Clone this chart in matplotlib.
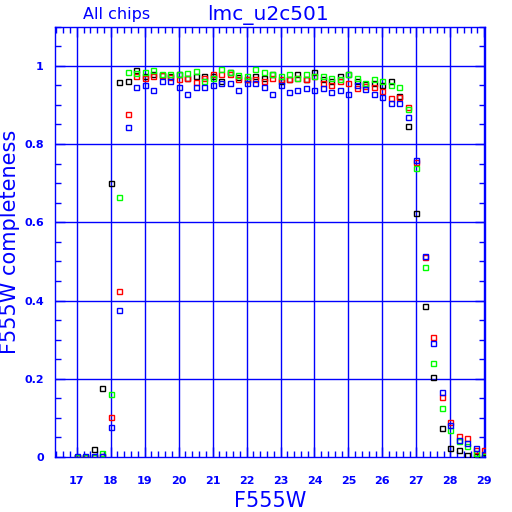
import numpy as np
import matplotlib
matplotlib.use("Agg")
import matplotlib.pyplot as plt
from matplotlib.ticker import MultipleLocator

mags = [17.0, 17.25, 17.5, 17.75, 18.0, 18.25, 18.5, 18.75, 19.0, 19.25, 19.5, 19.75,
        20.0, 20.25, 20.5, 20.75, 21.0, 21.25, 21.5, 21.75, 22.0, 22.25, 22.5, 22.75,
        23.0, 23.25, 23.5, 23.75, 24.0, 24.25, 24.5, 24.75, 25.0, 25.25, 25.5, 25.75,
        26.0, 26.25, 26.5, 26.75, 27.0, 27.25, 27.5, 27.75, 28.0, 28.25, 28.5, 28.75, 29.0]

compl_black = [0.0, 0.0, 0.021, 0.176, 0.70, 0.959, 0.961, 0.988, 0.973, 0.979, 0.976, 0.975,
               0.979, 0.970, 0.973, 0.975, 0.975, 0.962, 0.983, 0.972, 0.967, 0.974, 0.968, 0.980,
               0.960, 0.967, 0.979, 0.967, 0.983, 0.965, 0.962, 0.974, 0.979, 0.962, 0.953, 0.956,
               0.951, 0.960, 0.924, 0.846, 0.623, 0.385, 0.205, 0.075, 0.024, 0.019, 0.006, 0.003, 0.0]

compl_red = [0.0, 0.0, 0.0, 0.003, 0.101, 0.425, 0.878, 0.974, 0.970, 0.974, 0.976, 0.971,
             0.966, 0.968, 0.959, 0.970, 0.979, 0.978, 0.980, 0.967, 0.965, 0.967, 0.960, 0.968,
             0.965, 0.965, 0.970, 0.967, 0.975, 0.957, 0.950, 0.960, 0.957, 0.944, 0.948, 0.945,
             0.936, 0.918, 0.919, 0.894, 0.753, 0.512, 0.308, 0.153, 0.090, 0.054, 0.049, 0.018, 0.018]

compl_green = [0.0, 0.0, 0.0, 0.011, 0.160, 0.664, 0.985, 0.982, 0.985, 0.988, 0.979, 0.980,
               0.980, 0.982, 0.987, 0.962, 0.969, 0.991, 0.985, 0.976, 0.975, 0.991, 0.984, 0.979,
               0.973, 0.978, 0.970, 0.980, 0.973, 0.973, 0.968, 0.965, 0.980, 0.970, 0.957, 0.965,
               0.960, 0.952, 0.945, 0.890, 0.739, 0.486, 0.241, 0.126, 0.070, 0.040, 0.028, 0.011, 0.003]

compl_blue = [0.002, 0.002, 0.002, 0.003, 0.077, 0.376, 0.844, 0.945, 0.950, 0.938, 0.960, 0.962,
              0.947, 0.927, 0.945, 0.947, 0.950, 0.955, 0.955, 0.938, 0.955, 0.957, 0.947, 0.929,
              0.950, 0.933, 0.939, 0.942, 0.939, 0.942, 0.933, 0.937, 0.927, 0.950, 0.941, 0.929,
              0.920, 0.904, 0.906, 0.869, 0.758, 0.514, 0.292, 0.165, 0.082, 0.044, 0.036, 0.023, 0.008]

xticks = [17, 18, 19, 20, 21, 22, 23, 24, 25, 26, 27, 28, 29]
yticks = [0, 0.2, 0.4, 0.6, 0.8, 1.0]
ytick_labels = ["0", "0.2", "0.4", "0.6", "0.8", "1"]

BLUE = "#0000ff"

fig = plt.figure(figsize=(5.12, 5.12), dpi=100)
ax = fig.add_axes([0.1074, 0.1074, 0.8398, 0.8405])
ax.set_xlim(16.36, 29.02)
ax.set_ylim(0, 1.1)

for v in xticks:
    ax.axvline(v, color=BLUE, lw=1.0, zorder=1)
for v in yticks[1:]:
    ax.axhline(v, color=BLUE, lw=1.0, zorder=1)

for vals, col in [(compl_black, "black"), (compl_red, "#ff0000"),
                  (compl_green, "#00ff00"), (compl_blue, BLUE)]:
    ax.plot(mags, vals, linestyle="none", marker="s", markersize=3.6,
            markerfacecolor="none", markeredgecolor=col, markeredgewidth=1.0, zorder=3)

for s in ax.spines.values():
    s.set_color(BLUE)
    s.set_linewidth(1.0)

ax.set_xticks(xticks)
ax.set_xticklabels([str(t) for t in xticks])
ax.set_yticks(yticks)
ax.set_yticklabels(ytick_labels)
ax.xaxis.set_minor_locator(MultipleLocator(0.2))
ax.yaxis.set_minor_locator(MultipleLocator(0.05))
ax.tick_params(which="both", direction="in", colors=BLUE, top=True, right=True,
               labelsize=8, width=1.0)
ax.tick_params(which="major", length=7)
ax.tick_params(axis="x", which="major", pad=14)
ax.tick_params(axis="y", which="major", pad=8)
ax.tick_params(which="minor", length=4)
for lab in ax.get_xticklabels() + ax.get_yticklabels():
    lab.set_fontweight("bold")
    lab.set_color(BLUE)

ax.set_xlabel("F555W", color=BLUE, fontsize=15)
ax.xaxis.set_label_coords(0.5, -0.078)
ax.set_ylabel("F555W completeness", color=BLUE, fontsize=15)
ax.yaxis.set_label_coords(-0.081, 0.5)

fig.text(268 / 512, 1 - 15 / 512, "lmc_u2c501", color=BLUE, fontsize=14.5,
         ha="center", va="center")
fig.text(117 / 512, 1 - 14 / 512, "All chips", color=BLUE, fontsize=11.5,
         ha="center", va="center")

fig.savefig("out.png", dpi=100)
